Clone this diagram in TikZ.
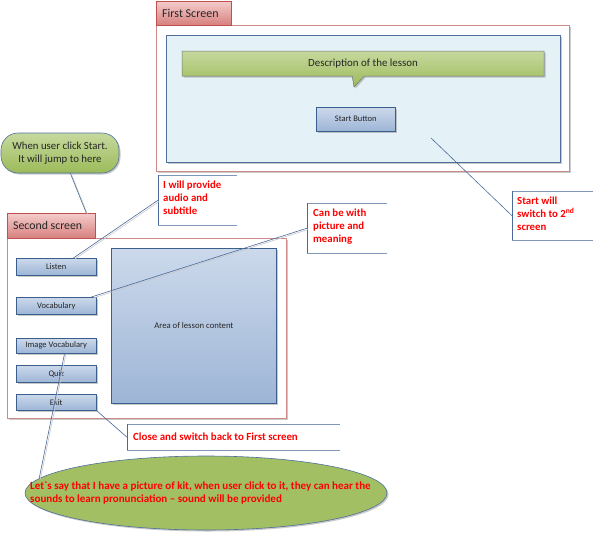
\documentclass[tikz,border=0pt]{standalone}
\usepackage{fontspec}
\setmainfont{Carlito}[Ligatures=TeXOff]
\usetikzlibrary{shapes.callouts,shapes.geometric,shadows}
\definecolor{tabtop}{HTML}{F4CCCB}
\definecolor{tabbot}{HTML}{D6807E}
\definecolor{tabline}{HTML}{C0504D}
\definecolor{boxline}{HTML}{CC8A88}
\definecolor{innerfill}{HTML}{E4F1F7}
\definecolor{innerline}{HTML}{4F6F9C}
\definecolor{greentop}{HTML}{C6D99E}
\definecolor{greenbot}{HTML}{9CBB5A}
\definecolor{btntop}{HTML}{CCD9EB}
\definecolor{btnbot}{HTML}{9DB5D6}
\definecolor{btnline}{HTML}{3A5F8D}
\definecolor{lnk}{HTML}{4A6A9B}
\definecolor{redtxt}{HTML}{FF0000}
\begin{document}
\begin{tikzpicture}[x=1pt,y=-1pt,
  shad/.style={drop shadow={opacity=0.35,shadow xshift=1.5pt,shadow yshift=-1.5pt,fill=black!60}},
  tabbox/.style={draw=tabline,line width=0.5pt,top color=tabtop,bottom color=tabbot,anchor=north west,inner sep=0pt},
  screenbox/.style={draw=boxline,line width=0.7pt,fill=white,anchor=north west,inner sep=0pt,shad},
  btn/.style={draw=btnline,line width=0.5pt,top color=btntop,bottom color=btnbot,anchor=north west,inner sep=0pt,minimum width=80pt,minimum height=17pt,font=\fontsize{8.5}{9}\selectfont,text=black!85,shad},
  note/.style={anchor=north west,inner sep=0pt,text=redtxt,font=\bfseries\fontsize{10.8}{13}\selectfont,align=left},
  notebar/.style={draw=lnk,line width=0.8pt},
  noteedge/.style={draw=lnk!70,line width=0.5pt},
  conn/.style={draw=lnk,line width=0.6pt,preaction={draw=black!22,line width=0.6pt,transform canvas={xshift=1.2pt,yshift=-1.2pt}}}
]
\useasboundingbox (0,0) rectangle (593,535);

% ---------- First screen ----------
\node[screenbox,minimum width=413pt,minimum height=146pt] (fs) at (156,25) {};
\node[tabbox,minimum width=75pt,minimum height=24pt] (tab1) at (156,1) {};
\node[anchor=west,inner sep=0pt,font=\fontsize{12}{14}\selectfont,text=black!85] (tab1t) at (162,13) {First Screen};
\node[draw=innerline,line width=0.6pt,fill=innerfill,anchor=north west,inner sep=0pt,minimum width=394pt,minimum height=127pt,shad] (inner) at (166,35) {};
\node[rectangle callout,callout absolute pointer={(354,87)},callout pointer width=12pt,draw=black!55,line width=0.5pt,top color=greentop,bottom color=greenbot,minimum width=362pt,minimum height=25pt,inner sep=0pt,font=\fontsize{10.9}{12}\selectfont,text=black!85,shad] (desc) at (363,63.5) {Description of the lesson};
\node[btn,minimum width=79pt,minimum height=24pt] (start) at (316,107) {Start Button};

% ---------- Second screen ----------
\node[screenbox,minimum width=279pt,minimum height=180pt] (ss) at (7,238) {};
\node[tabbox,minimum width=88pt,minimum height=25pt] (tab2) at (7,213) {};
\node[anchor=west,inner sep=0pt,font=\fontsize{11.8}{14}\selectfont,text=black!85] (tab2t) at (13,225.5) {Second screen};
\node[btn] (listen) at (16,258) {Listen};
\node[btn] (vocab) at (16,297) {Vocabulary};
\node[btn,minimum height=15pt] (imgvoc) at (16,338) {Image Vocabulary};
\node[btn] (quiz) at (16,365) {Quiz};
\node[btn,minimum height=16pt] (exit) at (16,394) {Exit};
\node[draw=btnline,line width=0.7pt,top color=btntop,bottom color=btnbot,anchor=north west,inner sep=0pt,minimum width=165pt,minimum height=155pt,font=\fontsize{8.7}{9}\selectfont,text=black!85,shad] (area) at (111,248) {Area of lesson content};

% ---------- green callout ----------
\node[draw=innerline,line width=0.6pt,top color=greentop,bottom color=greenbot,rounded corners=17pt,minimum width=118pt,minimum height=40pt,inner sep=0pt,align=center,font=\fontsize{10.8}{13}\selectfont,text=black!85,shad] (when) at (60,153) {When user click Start.\\It will jump to here};
\draw[conn] (when.-63) -- (tab2.20);

% ---------- notes ----------
\node[minimum width=79pt,minimum height=50pt,inner sep=0pt,anchor=north west] (iwill) at (158,175) {};
\node[note] (iwillt) at (163,181) {I will provide\\audio and\\subtitle};
\draw[noteedge] (iwill.north west) -- (iwill.north east);
\draw[noteedge] (iwill.south west) -- (iwill.south east);
\draw[notebar] (iwill.north west) -- (iwill.south west);
\draw[conn] (iwill.west) -- (listen.27);

\node[minimum width=80pt,minimum height=50pt,inner sep=0pt,anchor=north west] (canbe) at (307,203) {};
\node[note] (canbet) at (313,209) {Can be with\\picture and\\meaning};
\draw[noteedge] (canbe.north west) -- (canbe.north east);
\draw[noteedge] (canbe.south west) -- (canbe.south east);
\draw[notebar] (canbe.north west) -- (canbe.south west);
\draw[conn] (canbe.west) -- (vocab.14);

\node[minimum width=81pt,minimum height=49pt,inner sep=0pt,anchor=north west] (sw) at (512,191) {};
\node[note] (swt) at (517,197) {Start will\\switch to 2\textsuperscript{nd}\\screen};
\draw[noteedge] (sw.north west) -- (sw.north east);
\draw[noteedge] (sw.south west) -- (sw.south east);
\draw[notebar] (sw.north west) -- (sw.south west);
\coordinate (swfrom) at (431,138);
\draw[draw=lnk,line width=0.6pt] (swfrom) -- (sw.west);

\node[minimum width=213pt,minimum height=26pt,inner sep=0pt,anchor=north west] (close) at (127,424) {};
\node[note,anchor=west,font=\bfseries\fontsize{10.9}{13}\selectfont] (closet) at (133,437) {Close and switch back to First screen};
\draw[noteedge] (close.north west) -- (close.north east);
\draw[noteedge] (close.south west) -- (close.south east);
\draw[notebar] (close.north west) -- (close.south west);
\draw[draw=lnk,line width=0.6pt] (exit.south east) -- (close.west);

% ---------- ellipse ----------
\node[ellipse,draw=innerline,line width=0.6pt,fill=greenbot!85!greentop,minimum width=362pt,minimum height=74pt,inner sep=0pt,shad] (ell) at (206,493) {};
\node[note,anchor=north west,font=\bfseries\fontsize{11}{12.5}\selectfont] (ellt) at (30,482) {Let`s say that I have a picture of kit, when user click to it, they can hear the\\sounds to learn pronunciation – sound will be provided};
\draw[conn] (imgvoc.-43) -- (ell.175);
\end{tikzpicture}
\end{document}
